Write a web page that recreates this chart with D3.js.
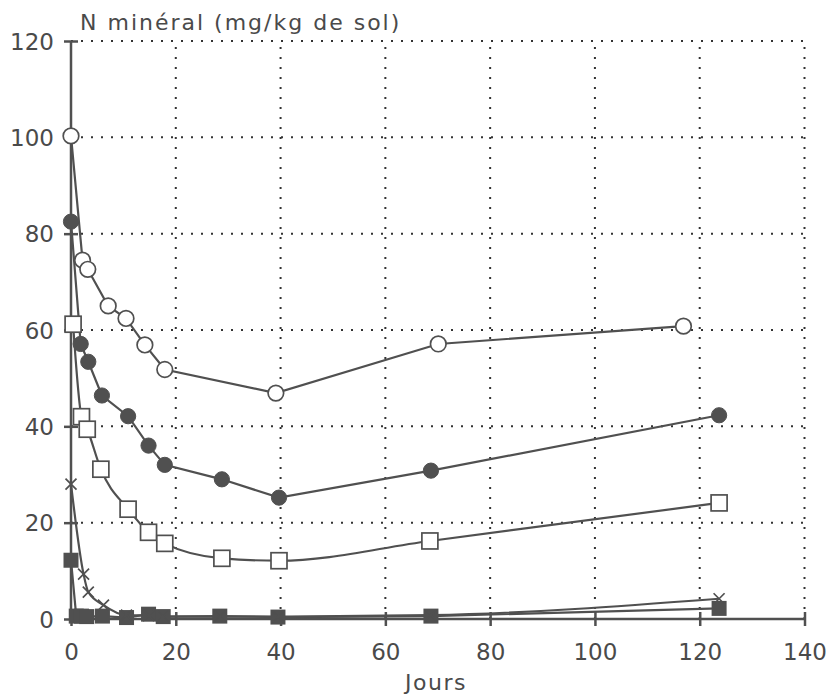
<!DOCTYPE html>
<html>
<head>
<meta charset="utf-8">
<script src="https://cdn.jsdelivr.net/npm/d3@7"></script>
<style>
  html, body { margin: 0; padding: 0; background: #fff; }
  svg { display: block; }
  text { font-family: "DejaVu Sans", sans-serif; fill: #4a4a4a; }
</style>
</head>
<body>
<svg id="chart" width="830" height="695"></svg>
<script>
// Mineral nitrogen in soil over the incubation (days)
const xTicks = [0, 20, 40, 60, 80, 100, 120, 140];
const yTicks = [0, 20, 40, 60, 80, 100, 120];

const openCircleDays = [0, 2.2, 3.2, 7.1, 10.5, 14.1, 17.9, 39.1, 70.1, 116.9];
const openCircleN    = [100.3, 74.5, 72.6, 65.0, 62.4, 56.9, 51.8, 46.9, 57.1, 60.8];

const filledCircleDays = [0, 1.85, 3.3, 5.9, 10.9, 14.8, 17.9, 28.8, 39.7, 68.7, 123.7];
const filledCircleN    = [82.5, 57.1, 53.4, 46.4, 42.1, 36.0, 32.0, 29.0, 25.2, 30.8, 42.3];

const openSquareDays = [0.4, 2.0, 3.1, 5.7, 10.9, 14.8, 17.9, 28.8, 39.7, 68.5, 123.7];
const openSquareN    = [61.2, 42.0, 39.4, 31.1, 22.8, 18.0, 15.7, 12.6, 12.1, 16.2, 24.1];

const crossDays = [0, 2.4, 3.3, 6.2, 10.6, 14.8, 17.6, 28.4, 39.5, 68.7, 123.7];
const crossN    = [28.0, 9.3, 5.6, 2.9, 0.8, 0.7, 0.5, 0.5, 0.5, 0.8, 4.2];

const filledSquareDays = [0, 1.0, 2.0, 3.0, 6.0, 10.6, 14.8, 17.6, 28.4, 39.5, 68.7, 123.7];
const filledSquareN    = [12.2, 0.6, 0.6, 0.5, 0.6, 0.3, 1.0, 0.5, 0.6, 0.4, 0.6, 2.2];

const seriesList = [
  { days: openSquareDays,   n: openSquareN,   marker: "openSquare",   curve: d3.curveMonotoneX },
  { days: filledSquareDays, n: filledSquareN, marker: "filledSquare", curve: d3.curveLinear },
  { days: crossDays,        n: crossN,        marker: "cross",        curve: d3.curveMonotoneX },
  { days: filledCircleDays, n: filledCircleN, marker: "filledCircle", curve: d3.curveLinear },
  { days: openCircleDays,   n: openCircleN,   marker: "openCircle",   curve: d3.curveLinear }
];

const ink = "#505050";
const svg = d3.select("#chart");

const x = d3.scaleLinear().domain([0, 140]).range([71, 804.5]);
const y = d3.scaleLinear().domain([0, 120]).range([619, 41]);

// dotted grid
const grid = svg.append("g");
grid.selectAll("line.gx").data(xTicks.filter(t => t > 0)).join("line")
  .attr("x1", d => x(d)).attr("x2", d => x(d))
  .attr("y1", y(0)).attr("y2", y(120))
  .attr("stroke", "#333").attr("stroke-width", 2)
  .attr("stroke-dasharray", "2,8").attr("stroke-linecap", "butt");
grid.selectAll("line.gy").data(yTicks.filter(t => t > 0)).join("line")
  .attr("x1", x(0)).attr("x2", x(140))
  .attr("y1", d => y(d)).attr("y2", d => y(d))
  .attr("stroke", "#333").attr("stroke-width", 2)
  .attr("stroke-dasharray", "2,8");

// axes
const xAxis = d3.axisBottom(x).tickValues(xTicks).tickSize(0).tickPadding(21);
const yAxis = d3.axisLeft(y).tickValues(yTicks).tickSize(0).tickPadding(17);

const gx = svg.append("g").attr("transform", `translate(0,${y(0)})`).call(xAxis);
gx.select(".domain").attr("stroke", ink).attr("stroke-width", 2.5).attr("d", `M${x(0)},0H${x(140)}`);
gx.selectAll(".tick").append("line").attr("y1", -7).attr("y2", 7)
  .attr("stroke", ink).attr("stroke-width", 2.5);
gx.selectAll(".tick text").attr("font-size", 23).attr("fill", "#4a4a4a")
  .attr("font-family", "DejaVu Sans, sans-serif").attr("dy", "0.85em");

const gy = svg.append("g").attr("transform", `translate(${x(0)},0)`).call(yAxis);
gy.select(".domain").attr("stroke", ink).attr("stroke-width", 2.5).attr("d", `M0,${y(0)}V${y(120)}`);
gy.selectAll(".tick").append("line").attr("x1", -7).attr("x2", 7)
  .attr("stroke", ink).attr("stroke-width", 2.5);
gy.selectAll(".tick text").attr("font-size", 23).attr("fill", "#4a4a4a")
  .attr("font-family", "DejaVu Sans, sans-serif").attr("dy", "0.36em");

// titles
svg.append("text").attr("x", 80).attr("y", 30)
  .attr("font-size", 22).attr("letter-spacing", 2)
  .text("N minéral (mg/kg de sol)");
svg.append("text").attr("x", 436).attr("y", 690)
  .attr("text-anchor", "middle").attr("font-size", 22).attr("letter-spacing", 1.5)
  .text("Jours");

// series lines
const plot = svg.append("g");
seriesList.forEach(s => {
  const pts = s.days.map((d, i) => [d, s.n[i]]);
  const line = d3.line().x(p => x(p[0])).y(p => y(p[1])).curve(s.curve);
  plot.append("path").datum(pts)
    .attr("d", line).attr("fill", "none")
    .attr("stroke", ink).attr("stroke-width", 2.2);
});

// markers
function drawMarker(g, kind, cx, cy) {
  if (kind === "openCircle") {
    g.append("circle").attr("cx", cx).attr("cy", cy).attr("r", 7.8)
      .attr("fill", "#fff").attr("stroke", ink).attr("stroke-width", 1.7);
  } else if (kind === "filledCircle") {
    g.append("circle").attr("cx", cx).attr("cy", cy).attr("r", 7.6)
      .attr("fill", ink).attr("stroke", ink).attr("stroke-width", 1);
  } else if (kind === "openSquare") {
    g.append("rect").attr("x", cx - 8).attr("y", cy - 8).attr("width", 16).attr("height", 16)
      .attr("fill", "#fff").attr("stroke", ink).attr("stroke-width", 1.7);
  } else if (kind === "filledSquare") {
    g.append("rect").attr("x", cx - 7.5).attr("y", cy - 7.5).attr("width", 15).attr("height", 15)
      .attr("fill", ink);
  } else if (kind === "cross") {
    g.append("path")
      .attr("d", `M${cx - 5.5},${cy - 5.5}L${cx + 5.5},${cy + 5.5}M${cx - 5.5},${cy + 5.5}L${cx + 5.5},${cy - 5.5}`)
      .attr("stroke", ink).attr("stroke-width", 1.7).attr("fill", "none");
  }
}

seriesList.forEach(s => {
  const g = plot.append("g");
  s.days.forEach((d, i) => drawMarker(g, s.marker, x(d), y(s.n[i])));
});
</script>
</body>
</html>
